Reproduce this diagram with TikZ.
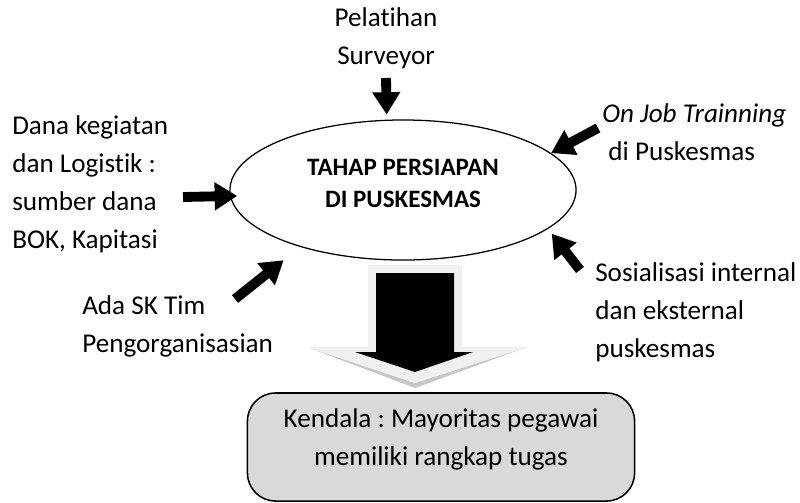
\documentclass[tikz,border=0pt]{standalone}
\usepackage{fontspec}
\setmainfont{Carlito}[Ligatures={NoCommon,NoContextual}]
\usetikzlibrary{arrows.meta,shapes.geometric}
\definecolor{boxgray}{RGB}{217,217,217}
\frenchspacing

\begin{document}
\begin{tikzpicture}[x=0.025cm,y=-0.025cm,
  txt/.style={inner sep=0pt,font=\fontsize{19.3}{27}\selectfont},
  inarrow/.style={line width=7pt,-{Triangle[length=16pt,width=19pt]}}]
\useasboundingbox (0,0) rectangle (800,502);

\node[ellipse,draw,line width=0.9pt,minimum width=8.65cm,minimum height=3.5cm,inner sep=0pt,align=center,text depth=10pt,font=\fontsize{17.8}{22.8}\selectfont\bfseries] (prep) at (403,190) {TAHAP PERSIAPAN\\DI PUSKESMAS};

\node[txt,align=center] (trn) at (386,38) {Pelatihan\\Surveyor};
\node[txt,align=left,anchor=west] (dana) at (12,184) {Dana kegiatan\\dan Logistik :\\sumber dana\\BOK, Kapitasi};
\node[txt,align=left,anchor=west] (ojt) at (602,132) {\textit{On Job Trainning}\\\hspace*{4.4pt}di Puskesmas};
\node[txt,align=left,anchor=west] (sos) at (595,312) {Sosialisasi internal\\dan eksternal\\puskesmas};
\node[txt,align=left,anchor=west] (sk) at (82,326) {Ada SK Tim\\Pengorganisasian};

\coordinate (trnT) at (386,78);
\coordinate (danaT) at (183,197);
\coordinate (ojtT) at (598,128);
\coordinate (sosT) at (580,270);
\coordinate (skT) at (235,299);

\draw[inarrow,shorten >=0.125cm] (trnT) -- (prep.103.7);
\draw[inarrow,shorten >=-0.18cm] (danaT) -- (prep.182.3);
\draw[inarrow] (ojtT) -- (prep.14.7);
\draw[inarrow,shorten >=0.15cm] (sosT) -- (prep.-15.6);
\draw[inarrow,shorten >=0.53cm] (skT) -- (prep.209.2);

\fill[gray!45] (307,347) -- (415,383) -- (527,347) -- (415,388) -- cycle;
\fill[gray!12] (368,265) -- (462,265) -- (462,347) -- (527,347) -- (415,383) -- (307,347) -- (368,347) -- cycle;
\fill[black] (376,273) -- (454,273) -- (454,352) -- (473,352) -- (415,372) -- (355,352) -- (376,352) -- cycle;

\node[draw,line width=1.1pt,fill=boxgray,rounded corners=0.7cm,minimum width=9.675cm,minimum height=2.7cm,align=center,txt,text depth=14pt] (kendala) at (441,447) {Kendala : Mayoritas pegawai\\memiliki rangkap tugas};
\end{tikzpicture}
\end{document}
